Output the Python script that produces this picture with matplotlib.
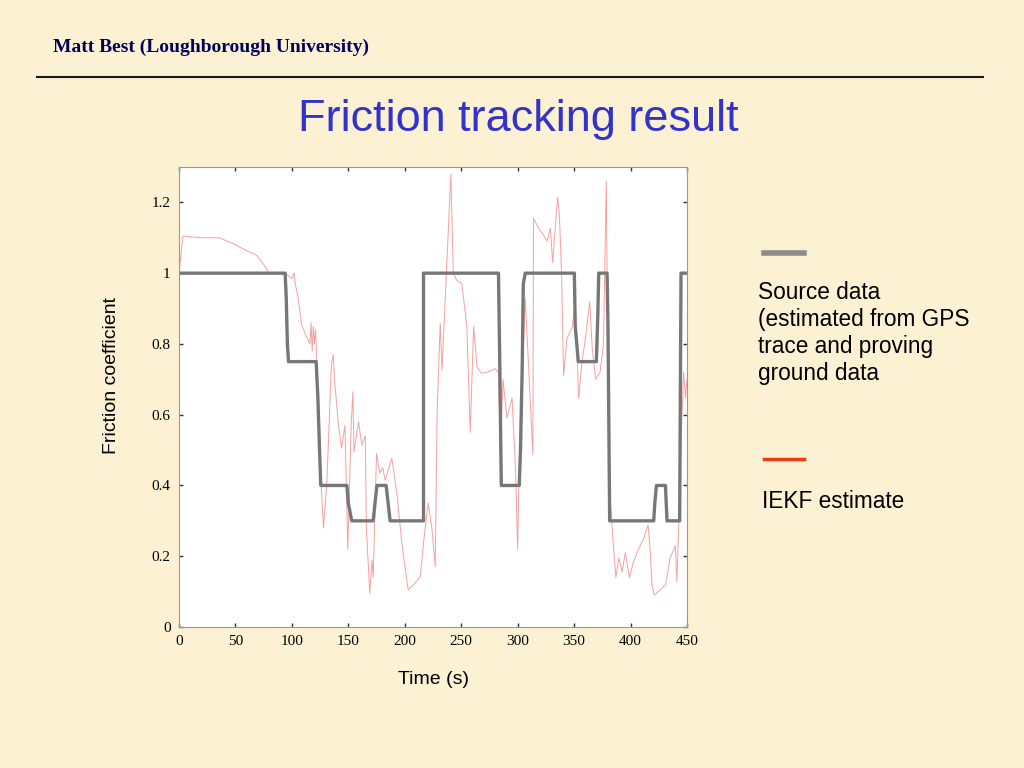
import matplotlib
matplotlib.use('Agg')
import matplotlib.pyplot as plt
from matplotlib.lines import Line2D

# source data (step profile)
source_t = [0, 94, 95, 96, 97, 121.5, 123, 124.5, 125.6, 148.7, 150, 153, 172, 175.3,
            183.5, 187, 216.6, 216.6, 283, 284, 285.5, 301.4, 302.5, 304, 305, 306.7,
            350.2, 351, 353.7, 369.7, 371, 371.8, 379.2, 380, 381.5, 420.5, 421.5,
            422.9, 430.9, 432.3, 443.5, 444.7, 450]
source_mu = [1, 1, 0.93, 0.8, 0.75, 0.75, 0.65, 0.5, 0.4, 0.4, 0.35, 0.3, 0.3, 0.4,
             0.4, 0.3, 0.3, 1.0, 1.0, 0.78, 0.4, 0.4, 0.5, 0.73, 0.97, 1.0,
             1.0, 0.85, 0.75, 0.75, 0.88, 1.0, 1.0, 0.85, 0.3, 0.3, 0.35,
             0.4, 0.4, 0.3, 0.3, 1.0, 1.0]

# IEKF estimate
iekf_t = [0, 3.5, 20, 35.5, 47, 59, 69, 76, 80, 94, 100, 102, 103, 105.5, 108.7, 113,
          116, 117, 118, 119, 120, 121, 122, 123, 125, 128, 131, 135, 136.6, 138, 141,
          144, 147, 149.5, 152.5, 154, 155, 159, 162, 165, 166, 169, 171, 172, 175, 178,
          180.5, 182.6, 188.5, 193, 197.4, 203, 208, 213.7, 217, 220.7, 224, 227, 228.7,
          231.4, 233, 236.7, 240.8, 243, 246, 250.6, 255, 258, 261, 264, 268, 272.8, 280,
          283, 284.6, 287, 290.5, 295, 298, 300, 302, 303.8, 306.7, 309.6, 311, 313.5,
          314, 318.5, 323, 326, 329, 331, 333.3, 335.4, 337, 339, 340.7, 343.6, 348, 351,
          354, 357, 360, 363.8, 366, 369, 373, 376, 378.5, 379.7, 380.6, 382, 385, 387,
          389.6, 392.5, 395.4, 399, 402.7, 407, 411.6, 415.5, 417.5, 419, 421, 426.4, 431,
          435, 439.7, 441, 443, 445, 447, 448.6, 450]
iekf_mu = [1.0, 1.105, 1.10, 1.10, 1.085, 1.065, 1.05, 1.02, 1.0, 1.0, 0.985, 1.0, 0.97,
           0.93, 0.853, 0.82, 0.80, 0.86, 0.78, 0.85, 0.80, 0.84, 0.75, 0.65, 0.46, 0.28,
           0.41, 0.74, 0.77, 0.69, 0.58, 0.505, 0.57, 0.22, 0.57, 0.665, 0.495, 0.58,
           0.514, 0.54, 0.28, 0.095, 0.19, 0.14, 0.49, 0.435, 0.45, 0.415, 0.477, 0.378,
           0.237, 0.105, 0.12, 0.142, 0.25, 0.35, 0.28, 0.17, 0.613, 0.858, 0.726, 0.99,
           1.28, 1.0, 0.98, 0.97, 0.848, 0.55, 0.85, 0.735, 0.717, 0.72, 0.73, 0.72,
           0.486, 0.70, 0.59, 0.647, 0.457, 0.22, 0.55, 0.693, 0.93, 0.74, 0.647, 0.486,
           1.155, 1.127, 1.107, 1.09, 1.127, 1.03, 1.127, 1.215, 1.164, 0.985, 0.71,
           0.815, 0.845, 0.91, 0.647, 0.75, 0.815, 0.92, 0.79, 0.70, 0.72, 0.8, 1.26,
           0.834, 0.647, 0.365, 0.22, 0.14, 0.195, 0.156, 0.21, 0.14, 0.185, 0.22, 0.25,
           0.288, 0.21, 0.119, 0.09, 0.105, 0.119, 0.195, 0.23, 0.128, 0.316, 0.55, 0.72,
           0.647, 0.7]

x_ticks = [0, 50, 100, 150, 200, 250, 300, 350, 400, 450]
y_ticks = [0, 0.2, 0.4, 0.6, 0.8, 1.0, 1.2]
y_tick_labels = ['0', '0.2', '0.4', '0.6', '0.8', '1', '1.2']

bg = '#fcf1d2'
fig = plt.figure(figsize=(10.24, 7.68), dpi=100, facecolor=bg)

# slide header
fig.text(53 / 1024, 1 - 47 / 768, 'Matt Best (Loughborough University)',
         family='Liberation Serif', weight='bold', fontsize=14, color='#00005a',
         va='center', ha='left')
fig.add_artist(Line2D([37 / 1024, 983 / 1024], [1 - 77 / 768, 1 - 77 / 768],
                      color='#1a1a1a', lw=1.5))
fig.text(518 / 1024, 1 - 119 / 768, 'Friction tracking result',
         family='Liberation Sans', fontsize=32.5, color='#3333cc', ha='center', va='center')

ax = fig.add_axes([179 / 1024, (768 - 627) / 768, 508 / 1024, 460 / 768])
ax.set_facecolor('white')
ax.plot(iekf_t, iekf_mu, color='#f5a0a0', lw=0.7)
ax.plot(source_t, source_mu, color='#777777', lw=2.4)

ax.set_xlim(0, 450)
ax.set_ylim(0, 1.3)
ax.set_xticks(x_ticks)
ax.set_yticks(y_ticks)
ax.set_yticklabels(y_tick_labels)
ax.tick_params(direction='in', length=3, width=1, top=True, right=True,
               labelsize=11, pad=6, color='#333333')
for lab in ax.get_xticklabels() + ax.get_yticklabels():
    lab.set_family('Liberation Serif')
for s in ax.spines.values():
    s.set_color('#999999')
    s.set_linewidth(0.8)

ax.set_xlabel('Time (s)', family='Liberation Sans', fontsize=14, labelpad=16)
ax.set_ylabel('Friction coefficient', family='Liberation Sans', fontsize=14)
ax.yaxis.set_label_coords(-0.116, 0.546)

# legend on the right
fig.add_artist(Line2D([764 / 1024, 804 / 1024], [1 - 253 / 768, 1 - 253 / 768],
                      color='#8c8c8c', lw=4))
fig.text(758 / 1024, 1 - 281 / 768,
         'Source data\n(estimated from GPS\ntrace and proving\nground data',
         family='Liberation Sans', fontsize=16.3, va='top', ha='left', linespacing=1.23)
fig.add_artist(Line2D([764 / 1024, 804 / 1024], [1 - 459 / 768, 1 - 459 / 768],
                      color='#ee3a10', lw=2.5))
fig.text(762 / 1024, 1 - 501 / 768, 'IEKF estimate',
         family='Liberation Sans', fontsize=16.3, va='center', ha='left')

fig.savefig('out.png', dpi=100, facecolor=bg)
